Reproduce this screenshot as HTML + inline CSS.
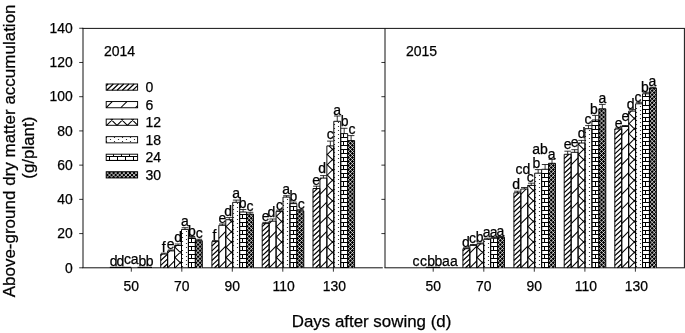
<!DOCTYPE html>
<html lang="en"><head><meta charset="utf-8"><title>Above-ground dry matter accumulation</title>
<style>html,body{margin:0;padding:0;background:#fff;}svg{display:block;font-family:"Liberation Sans",sans-serif;fill:#000;will-change:transform;}text{stroke:#000;stroke-width:0.25px;}</style>
</head><body>
<svg width="685" height="333" viewBox="0 0 685 333">
<rect width="685" height="333" fill="#fff"/>
<g stroke="#111" stroke-width="1" fill="none">
<path d="M83.0,27.9V267.8M82.5,28.4H684.9M684.4,28.4V267.8M385.0,28.4V267.8M82.5,267.8H382.8M384.5,267.8H684.9"/>
</g>
<g stroke="#000" stroke-width="0.8" fill="none">
<path d="M79.2,267.8H83M79.2,233.58H83M381.4,233.58H385M79.2,199.36H83M381.4,199.36H385M79.2,165.14H83M381.4,165.14H385M79.2,130.92H83M381.4,130.92H385M79.2,96.7H83M381.4,96.7H385M79.2,62.48H83M381.4,62.48H385M79.2,28.26H83M131.3,267.8V271.7M181.8,267.8V271.7M232.3,267.8V271.7M282.8,267.8V271.7M333.4,267.8V271.7M433.2,267.8V271.7M483.8,267.8V271.7M534.3,267.8V271.7M584.9,267.8V271.7M635.4,267.8V271.7"/>
</g>
<path d="M109.81,267.4H117.34" stroke="#000" stroke-width="1.2" fill="none"/>
<text x="113.58" y="265.8" font-size="14" text-anchor="middle">d</text>
<path d="M116.74,267.4H124.27" stroke="#000" stroke-width="1.2" fill="none"/>
<text x="120.51" y="265.8" font-size="14" text-anchor="middle">d</text>
<path d="M123.67,267.4H131.2" stroke="#000" stroke-width="1.2" fill="none"/>
<text x="127.44" y="263.5" font-size="14" text-anchor="middle">c</text>
<text x="134.56" y="263.5" font-size="14" text-anchor="middle">a</text>
<path d="M137.53,267.4H145.06" stroke="#000" stroke-width="1.2" fill="none"/>
<text x="142.3" y="265.8" font-size="14" text-anchor="middle">b</text>
<path d="M144.46,267.4H151.99" stroke="#000" stroke-width="1.2" fill="none"/>
<text x="149.53" y="265.8" font-size="14" text-anchor="middle">b</text>
<path d="M163.31,267.8L167.64,263.76M160.71,265.38L167.64,258.91M160.71,260.52L167.6,254.1M160.71,255.68L162.4,254.1" stroke="#000" stroke-width="1.2" fill="none"/><path d="M160.71,267.8V254.1H167.64V267.8" fill="none" stroke="#000" stroke-width="0.95"/>
<path d="M164.18,254.1V253.2M160.88,253.2H167.48" stroke="#000" stroke-width="0.8" fill="none"/>
<text x="163.68" y="251.8" font-size="14" text-anchor="middle">f</text>
<path d="M167.64,267.8L174.57,260.87M167.64,253.1L169.84,250.9" stroke="#000" stroke-width="1.05" fill="none"/><path d="M167.64,267.8V250.9H174.57V267.8" fill="none" stroke="#000" stroke-width="0.95"/>
<path d="M171.11,250.9V250M167.81,250H174.41" stroke="#000" stroke-width="0.8" fill="none"/>
<text x="170.61" y="249.3" font-size="14" text-anchor="middle">e</text>
<path d="M174.97,267.8L181.5,261.33M174.57,257.9L181.5,251.03M174.57,247.6L176.69,245.5M174.57,267.4L174.97,267.8M174.57,257.1L181.5,263.97M174.57,246.8L181.5,253.67" stroke="#000" stroke-width="1.05" fill="none"/><path d="M174.57,267.8V245.5H181.5V267.8" fill="none" stroke="#000" stroke-width="0.95"/>
<path d="M178.03,245.5V244M174.73,244H181.34" stroke="#000" stroke-width="0.8" fill="none"/>
<text x="178.03" y="242.1" font-size="14" text-anchor="middle">d</text>
<path d="M181.95,265.95h1.1v1.1h-1.1zM181.95,261.95h1.1v1.1h-1.1zM181.95,257.95h1.1v1.1h-1.1zM181.95,253.95h1.1v1.1h-1.1zM181.95,249.95h1.1v1.1h-1.1zM181.95,244.95h1.1v1.1h-1.1zM181.95,240.95h1.1v1.1h-1.1zM181.95,236.95h1.1v1.1h-1.1zM181.95,232.95h1.1v1.1h-1.1zM185.95,263.95h1.1v1.1h-1.1zM185.95,259.95h1.1v1.1h-1.1zM185.95,255.95h1.1v1.1h-1.1zM185.95,251.95h1.1v1.1h-1.1zM185.95,246.95h1.1v1.1h-1.1zM185.95,242.95h1.1v1.1h-1.1zM185.95,238.95h1.1v1.1h-1.1zM185.95,234.95h1.1v1.1h-1.1zM185.95,230.95h1.1v1.1h-1.1z" fill="#333"/><path d="M181.5,267.8V229.4H188.43V267.8" fill="none" stroke="#000" stroke-width="0.95"/>
<path d="M184.97,229.4V227.7M181.66,227.7H188.27" stroke="#000" stroke-width="0.8" fill="none"/>
<text x="184.97" y="225.8" font-size="14" text-anchor="middle">a</text>
<path d="M188.43,267.5H195.36M188.43,262.5H195.36M188.43,258.5H195.36M188.43,254.5H195.36M188.43,250.5H195.36M188.43,246.5H195.36M188.43,242.5H195.36M188.43,238.5H195.36M191.5,267.5V262.5M191.5,258.5V254.5M191.5,250.5V246.5M191.5,242.5V238.5" stroke="#000" stroke-width="1.0" fill="none"/><path d="M188.43,267.8V237.9H195.36V267.8" fill="none" stroke="#000" stroke-width="0.95"/>
<path d="M191.9,237.9V236.5M188.59,236.5H195.2" stroke="#000" stroke-width="0.8" fill="none"/>
<text x="191.9" y="235.5" font-size="14" text-anchor="middle">b</text>
<rect x="195.36" y="240.7" width="6.93" height="27.1" fill="#000"/><path d="M201.17,267.8L202.29,266.7M197.07,267.8L202.29,262.65M195.36,265.44L202.29,258.6M195.36,261.39L202.29,254.55M195.36,257.34L202.29,250.5M195.36,253.29L202.29,246.45M195.36,249.24L202.29,242.4M195.36,245.19L199.91,240.7M195.36,241.14L195.81,240.7M195.36,264.16L199.05,267.8M195.36,260.11L202.29,266.95M195.36,256.06L202.29,262.9M195.36,252.01L202.29,258.85M195.36,247.96L202.29,254.8M195.36,243.91L202.29,250.75M196.21,240.7L202.29,246.7M200.31,240.7L202.29,242.65" stroke="#fff" stroke-width="0.72" fill="none"/><path d="M195.36,267.8V240.7H202.29V267.8" fill="none" stroke="#000" stroke-width="0.95"/>
<path d="M198.83,240.7V239.3M195.53,239.3H202.13" stroke="#000" stroke-width="0.8" fill="none"/>
<text x="199.33" y="238" font-size="14" text-anchor="middle">c</text>
<path d="M214.51,267.8L218.84,263.76M211.91,265.38L218.84,258.91M211.91,260.52L218.84,254.06M211.91,255.68L218.84,249.21M211.91,250.82L218.84,244.36M211.91,245.97L216.6,241.6" stroke="#000" stroke-width="1.2" fill="none"/><path d="M211.91,267.8V241.6H218.84V267.8" fill="none" stroke="#000" stroke-width="0.95"/>
<path d="M215.38,241.6V240.6M212.07,240.6H218.68" stroke="#000" stroke-width="0.8" fill="none"/>
<text x="214.38" y="239.7" font-size="14" text-anchor="middle">f</text>
<path d="M218.84,267.8L225.77,260.87M218.84,253.1L225.77,246.17M218.84,238.4L225.77,231.47" stroke="#000" stroke-width="1.05" fill="none"/><path d="M218.84,267.8V225.3H225.77V267.8" fill="none" stroke="#000" stroke-width="0.95"/>
<path d="M222.31,225.3V224M219,224H225.61" stroke="#000" stroke-width="0.8" fill="none"/>
<text x="222.31" y="222.6" font-size="14" text-anchor="middle">e</text>
<path d="M226.17,267.8L232.7,261.33M225.77,257.9L232.7,251.03M225.77,247.6L232.7,240.73M225.77,237.3L232.7,230.43M225.77,227L232.7,220.13M225.77,267.4L226.17,267.8M225.77,257.1L232.7,263.97M225.77,246.8L232.7,253.67M225.77,236.5L232.7,243.37M225.77,226.2L232.7,233.07M229.6,219.7L232.7,222.77" stroke="#000" stroke-width="1.05" fill="none"/><path d="M225.77,267.8V219.7H232.7V267.8" fill="none" stroke="#000" stroke-width="0.95"/>
<path d="M229.23,219.7V217.6M225.93,217.6H232.53" stroke="#000" stroke-width="0.8" fill="none"/>
<text x="228.23" y="215.7" font-size="14" text-anchor="middle">d</text>
<path d="M232.95,265.95h1.1v1.1h-1.1zM232.95,261.95h1.1v1.1h-1.1zM232.95,257.95h1.1v1.1h-1.1zM232.95,253.95h1.1v1.1h-1.1zM232.95,249.95h1.1v1.1h-1.1zM232.95,244.95h1.1v1.1h-1.1zM232.95,240.95h1.1v1.1h-1.1zM232.95,236.95h1.1v1.1h-1.1zM232.95,232.95h1.1v1.1h-1.1zM232.95,228.95h1.1v1.1h-1.1zM232.95,224.95h1.1v1.1h-1.1zM232.95,220.95h1.1v1.1h-1.1zM232.95,216.95h1.1v1.1h-1.1zM232.95,212.95h1.1v1.1h-1.1zM232.95,208.95h1.1v1.1h-1.1zM232.95,204.95h1.1v1.1h-1.1zM236.95,263.95h1.1v1.1h-1.1zM236.95,259.95h1.1v1.1h-1.1zM236.95,255.95h1.1v1.1h-1.1zM236.95,251.95h1.1v1.1h-1.1zM236.95,246.95h1.1v1.1h-1.1zM236.95,242.95h1.1v1.1h-1.1zM236.95,238.95h1.1v1.1h-1.1zM236.95,234.95h1.1v1.1h-1.1zM236.95,230.95h1.1v1.1h-1.1zM236.95,226.95h1.1v1.1h-1.1zM236.95,222.95h1.1v1.1h-1.1zM236.95,218.95h1.1v1.1h-1.1zM236.95,214.95h1.1v1.1h-1.1zM236.95,210.95h1.1v1.1h-1.1zM236.95,206.95h1.1v1.1h-1.1zM236.95,202.95h1.1v1.1h-1.1z" fill="#333"/><path d="M232.7,267.8V202.3H239.63V267.8" fill="none" stroke="#000" stroke-width="0.95"/>
<path d="M236.16,202.3V200.1M232.86,200.1H239.47" stroke="#000" stroke-width="0.8" fill="none"/>
<text x="236.16" y="198.3" font-size="14" text-anchor="middle">a</text>
<path d="M239.63,267.5H246.56M239.63,262.5H246.56M239.63,258.5H246.56M239.63,254.5H246.56M239.63,250.5H246.56M239.63,246.5H246.56M239.63,242.5H246.56M239.63,238.5H246.56M239.63,234.5H246.56M239.63,230.5H246.56M239.63,226.5H246.56M239.63,222.5H246.56M239.63,218.5H246.56M239.63,214.5H246.56M242.5,267.5V262.5M242.5,258.5V254.5M242.5,250.5V246.5M242.5,242.5V238.5M242.5,234.5V230.5M242.5,226.5V222.5M242.5,218.5V214.5" stroke="#000" stroke-width="1.0" fill="none"/><path d="M239.63,267.8V212H246.56V267.8" fill="none" stroke="#000" stroke-width="0.95"/>
<path d="M243.09,212V209.5M239.79,209.5H246.4" stroke="#000" stroke-width="0.8" fill="none"/>
<text x="242.69" y="208" font-size="14" text-anchor="middle">b</text>
<rect x="246.56" y="214.1" width="6.93" height="53.7" fill="#000"/><path d="M252.37,267.8L253.49,266.7M248.27,267.8L253.49,262.65M246.56,265.44L253.49,258.6M246.56,261.39L253.49,254.55M246.56,257.34L253.49,250.5M246.56,253.29L253.49,246.45M246.56,249.24L253.49,242.4M246.56,245.19L253.49,238.35M246.56,241.14L253.49,234.3M246.56,237.09L253.49,230.25M246.56,233.04L253.49,226.2M246.56,228.99L253.49,222.15M246.56,224.94L253.49,218.1M246.56,220.89L253.44,214.1M246.56,216.84L249.34,214.1M246.56,264.16L250.25,267.8M246.56,260.11L253.49,266.95M246.56,256.06L253.49,262.9M246.56,252.01L253.49,258.85M246.56,247.96L253.49,254.8M246.56,243.91L253.49,250.75M246.56,239.86L253.49,246.7M246.56,235.81L253.49,242.65M246.56,231.76L253.49,238.6M246.56,227.71L253.49,234.55M246.56,223.66L253.49,230.5M246.56,219.61L253.49,226.45M246.56,215.56L253.49,222.4M249.18,214.1L253.49,218.35M253.28,214.1L253.49,214.3" stroke="#fff" stroke-width="0.72" fill="none"/><path d="M246.56,267.8V214.1H253.49V267.8" fill="none" stroke="#000" stroke-width="0.95"/>
<path d="M250.03,214.1V212.3M246.72,212.3H253.33" stroke="#000" stroke-width="0.8" fill="none"/>
<text x="250.03" y="211.1" font-size="14" text-anchor="middle">c</text>
<path d="M264.81,267.8L269.14,263.76M262.21,265.38L269.14,258.91M262.21,260.52L269.14,254.06M262.21,255.68L269.14,249.21M262.21,250.82L269.14,244.36M262.21,245.97L269.14,239.51M262.21,241.12L269.14,234.66M262.21,236.28L269.14,229.81M262.21,231.43L269.14,224.96M262.21,226.57L265.4,223.6" stroke="#000" stroke-width="1.2" fill="none"/><path d="M262.21,267.8V223.6H269.14V267.8" fill="none" stroke="#000" stroke-width="0.95"/>
<path d="M265.67,223.6V222.4M262.37,222.4H268.97" stroke="#000" stroke-width="0.8" fill="none"/>
<text x="265.67" y="220.6" font-size="14" text-anchor="middle">e</text>
<path d="M269.14,267.8L276.07,260.87M269.14,253.1L276.07,246.17M269.14,238.4L276.07,231.47M269.14,223.7L271.64,221.2" stroke="#000" stroke-width="1.05" fill="none"/><path d="M269.14,267.8V221.2H276.07V267.8" fill="none" stroke="#000" stroke-width="0.95"/>
<path d="M272.6,221.2V219M269.3,219H275.9" stroke="#000" stroke-width="0.8" fill="none"/>
<text x="271.4" y="217.4" font-size="14" text-anchor="middle">d</text>
<path d="M276.47,267.8L283,261.33M276.07,257.9L283,251.03M276.07,247.6L283,240.73M276.07,237.3L283,230.43M276.07,227L283,220.13M276.07,216.7L281.42,211.4M276.07,267.4L276.47,267.8M276.07,257.1L283,263.97M276.07,246.8L283,253.67M276.07,236.5L283,243.37M276.07,226.2L283,233.07M276.07,215.9L283,222.77M281.92,211.4L283,212.47" stroke="#000" stroke-width="1.05" fill="none"/><path d="M276.07,267.8V211.4H283V267.8" fill="none" stroke="#000" stroke-width="0.95"/>
<path d="M279.53,211.4V210.2M276.23,210.2H282.83" stroke="#000" stroke-width="0.8" fill="none"/>
<text x="279.53" y="209.5" font-size="14" text-anchor="middle">c</text>
<path d="M282.95,265.95h1.1v1.1h-1.1zM282.95,261.95h1.1v1.1h-1.1zM282.95,257.95h1.1v1.1h-1.1zM282.95,253.95h1.1v1.1h-1.1zM282.95,249.95h1.1v1.1h-1.1zM282.95,244.95h1.1v1.1h-1.1zM282.95,240.95h1.1v1.1h-1.1zM282.95,236.95h1.1v1.1h-1.1zM282.95,232.95h1.1v1.1h-1.1zM282.95,228.95h1.1v1.1h-1.1zM282.95,224.95h1.1v1.1h-1.1zM282.95,220.95h1.1v1.1h-1.1zM282.95,216.95h1.1v1.1h-1.1zM282.95,212.95h1.1v1.1h-1.1zM282.95,208.95h1.1v1.1h-1.1zM282.95,204.95h1.1v1.1h-1.1zM282.95,200.95h1.1v1.1h-1.1zM286.95,263.95h1.1v1.1h-1.1zM286.95,259.95h1.1v1.1h-1.1zM286.95,255.95h1.1v1.1h-1.1zM286.95,251.95h1.1v1.1h-1.1zM286.95,246.95h1.1v1.1h-1.1zM286.95,242.95h1.1v1.1h-1.1zM286.95,238.95h1.1v1.1h-1.1zM286.95,234.95h1.1v1.1h-1.1zM286.95,230.95h1.1v1.1h-1.1zM286.95,226.95h1.1v1.1h-1.1zM286.95,222.95h1.1v1.1h-1.1zM286.95,218.95h1.1v1.1h-1.1zM286.95,214.95h1.1v1.1h-1.1zM286.95,210.95h1.1v1.1h-1.1zM286.95,206.95h1.1v1.1h-1.1zM286.95,202.95h1.1v1.1h-1.1zM286.95,198.95h1.1v1.1h-1.1z" fill="#333"/><path d="M283,267.8V197.1H289.93V267.8" fill="none" stroke="#000" stroke-width="0.95"/>
<path d="M286.46,197.1V195.7M283.16,195.7H289.76" stroke="#000" stroke-width="0.8" fill="none"/>
<text x="286.16" y="194.2" font-size="14" text-anchor="middle">a</text>
<path d="M289.93,267.5H296.86M289.93,262.5H296.86M289.93,258.5H296.86M289.93,254.5H296.86M289.93,250.5H296.86M289.93,246.5H296.86M289.93,242.5H296.86M289.93,238.5H296.86M289.93,234.5H296.86M289.93,230.5H296.86M289.93,226.5H296.86M289.93,222.5H296.86M289.93,218.5H296.86M289.93,214.5H296.86M289.93,210.5H296.86M289.93,206.5H296.86M293.5,267.5V262.5M293.5,258.5V254.5M293.5,250.5V246.5M293.5,242.5V238.5M293.5,234.5V230.5M293.5,226.5V222.5M293.5,218.5V214.5M293.5,210.5V206.5" stroke="#000" stroke-width="1.0" fill="none"/><path d="M289.93,267.8V203.6H296.86V267.8" fill="none" stroke="#000" stroke-width="0.95"/>
<path d="M293.39,203.6V202.1M290.09,202.1H296.69" stroke="#000" stroke-width="0.8" fill="none"/>
<text x="293.39" y="201.4" font-size="14" text-anchor="middle">b</text>
<rect x="296.86" y="210.8" width="6.93" height="57" fill="#000"/><path d="M302.67,267.8L303.79,266.7M298.57,267.8L303.79,262.65M296.86,265.44L303.79,258.6M296.86,261.39L303.79,254.55M296.86,257.34L303.79,250.5M296.86,253.29L303.79,246.45M296.86,249.24L303.79,242.4M296.86,245.19L303.79,238.35M296.86,241.14L303.79,234.3M296.86,237.09L303.79,230.25M296.86,233.04L303.79,226.2M296.86,228.99L303.79,222.15M296.86,224.94L303.79,218.1M296.86,220.89L303.79,214.05M296.86,216.84L302.98,210.8M296.86,212.79L298.88,210.8M296.86,264.16L300.55,267.8M296.86,260.11L303.79,266.95M296.86,256.06L303.79,262.9M296.86,252.01L303.79,258.85M296.86,247.96L303.79,254.8M296.86,243.91L303.79,250.75M296.86,239.86L303.79,246.7M296.86,235.81L303.79,242.65M296.86,231.76L303.79,238.6M296.86,227.71L303.79,234.55M296.86,223.66L303.79,230.5M296.86,219.61L303.79,226.45M296.86,215.56L303.79,222.4M296.86,211.51L303.79,218.35M300.24,210.8L303.79,214.3" stroke="#fff" stroke-width="0.72" fill="none"/><path d="M296.86,267.8V210.8H303.79V267.8" fill="none" stroke="#000" stroke-width="0.95"/>
<path d="M300.32,210.8V209.6M297.02,209.6H303.62" stroke="#000" stroke-width="0.8" fill="none"/>
<text x="301.32" y="208.8" font-size="14" text-anchor="middle">c</text>
<path d="M315.61,267.8L319.94,263.76M313.01,265.38L319.94,258.91M313.01,260.52L319.94,254.06M313.01,255.68L319.94,249.21M313.01,250.82L319.94,244.36M313.01,245.97L319.94,239.51M313.01,241.12L319.94,234.66M313.01,236.28L319.94,229.81M313.01,231.43L319.94,224.96M313.01,226.57L319.94,220.11M313.01,221.72L319.94,215.26M313.01,216.88L319.94,210.41M313.01,212.03L319.94,205.56M313.01,207.18L319.94,200.71M313.01,202.32L319.94,195.86M313.01,197.48L319.94,191.01M313.01,192.62L317.43,188.5" stroke="#000" stroke-width="1.2" fill="none"/><path d="M313.01,267.8V188.5H319.94V267.8" fill="none" stroke="#000" stroke-width="0.95"/>
<path d="M316.47,188.5V186.2M313.17,186.2H319.77" stroke="#000" stroke-width="0.8" fill="none"/>
<text x="316.07" y="184.7" font-size="14" text-anchor="middle">e</text>
<path d="M319.94,267.8L326.87,260.87M319.94,253.1L326.87,246.17M319.94,238.4L326.87,231.47M319.94,223.7L326.87,216.77M319.94,209L326.87,202.07M319.94,194.3L326.87,187.37M319.94,179.6L321.44,178.1" stroke="#000" stroke-width="1.05" fill="none"/><path d="M319.94,267.8V178.1H326.87V267.8" fill="none" stroke="#000" stroke-width="0.95"/>
<path d="M323.4,178.1V175.6M320.1,175.6H326.7" stroke="#000" stroke-width="0.8" fill="none"/>
<text x="322.1" y="173.3" font-size="14" text-anchor="middle">d</text>
<path d="M327.27,267.8L333.8,261.33M326.87,257.9L333.8,251.03M326.87,247.6L333.8,240.73M326.87,237.3L333.8,230.43M326.87,227L333.8,220.13M326.87,216.7L333.8,209.83M326.87,206.4L333.8,199.53M326.87,196.1L333.8,189.23M326.87,185.8L333.8,178.93M326.87,175.5L333.8,168.63M326.87,165.2L333.8,158.33M326.87,154.9L333.8,148.03M326.87,267.4L327.27,267.8M326.87,257.1L333.8,263.97M326.87,246.8L333.8,253.67M326.87,236.5L333.8,243.37M326.87,226.2L333.8,233.07M326.87,215.9L333.8,222.77M326.87,205.6L333.8,212.47M326.87,195.3L333.8,202.17M326.87,185L333.8,191.87M326.87,174.7L333.8,181.57M326.87,164.4L333.8,171.27M326.87,154.1L333.8,160.97M328.99,145.9L333.8,150.67" stroke="#000" stroke-width="1.05" fill="none"/><path d="M326.87,267.8V145.9H333.8V267.8" fill="none" stroke="#000" stroke-width="0.95"/>
<path d="M330.33,145.9V141.1M327.03,141.1H333.63" stroke="#000" stroke-width="0.8" fill="none"/>
<text x="330.33" y="139.2" font-size="14" text-anchor="middle">c</text>
<path d="M333.95,265.95h1.1v1.1h-1.1zM333.95,261.95h1.1v1.1h-1.1zM333.95,257.95h1.1v1.1h-1.1zM333.95,253.95h1.1v1.1h-1.1zM333.95,249.95h1.1v1.1h-1.1zM333.95,244.95h1.1v1.1h-1.1zM333.95,240.95h1.1v1.1h-1.1zM333.95,236.95h1.1v1.1h-1.1zM333.95,232.95h1.1v1.1h-1.1zM333.95,228.95h1.1v1.1h-1.1zM333.95,224.95h1.1v1.1h-1.1zM333.95,220.95h1.1v1.1h-1.1zM333.95,216.95h1.1v1.1h-1.1zM333.95,212.95h1.1v1.1h-1.1zM333.95,208.95h1.1v1.1h-1.1zM333.95,204.95h1.1v1.1h-1.1zM333.95,200.95h1.1v1.1h-1.1zM333.95,196.95h1.1v1.1h-1.1zM333.95,192.95h1.1v1.1h-1.1zM333.95,188.95h1.1v1.1h-1.1zM333.95,184.95h1.1v1.1h-1.1zM333.95,180.95h1.1v1.1h-1.1zM333.95,176.95h1.1v1.1h-1.1zM333.95,172.95h1.1v1.1h-1.1zM333.95,168.95h1.1v1.1h-1.1zM333.95,163.95h1.1v1.1h-1.1zM333.95,159.95h1.1v1.1h-1.1zM333.95,155.95h1.1v1.1h-1.1zM333.95,151.95h1.1v1.1h-1.1zM333.95,147.95h1.1v1.1h-1.1zM333.95,143.95h1.1v1.1h-1.1zM333.95,139.95h1.1v1.1h-1.1zM333.95,135.95h1.1v1.1h-1.1zM333.95,131.95h1.1v1.1h-1.1zM333.95,127.95h1.1v1.1h-1.1zM333.95,123.95h1.1v1.1h-1.1zM337.95,263.95h1.1v1.1h-1.1zM337.95,259.95h1.1v1.1h-1.1zM337.95,255.95h1.1v1.1h-1.1zM337.95,251.95h1.1v1.1h-1.1zM337.95,246.95h1.1v1.1h-1.1zM337.95,242.95h1.1v1.1h-1.1zM337.95,238.95h1.1v1.1h-1.1zM337.95,234.95h1.1v1.1h-1.1zM337.95,230.95h1.1v1.1h-1.1zM337.95,226.95h1.1v1.1h-1.1zM337.95,222.95h1.1v1.1h-1.1zM337.95,218.95h1.1v1.1h-1.1zM337.95,214.95h1.1v1.1h-1.1zM337.95,210.95h1.1v1.1h-1.1zM337.95,206.95h1.1v1.1h-1.1zM337.95,202.95h1.1v1.1h-1.1zM337.95,198.95h1.1v1.1h-1.1zM337.95,194.95h1.1v1.1h-1.1zM337.95,190.95h1.1v1.1h-1.1zM337.95,186.95h1.1v1.1h-1.1zM337.95,182.95h1.1v1.1h-1.1zM337.95,178.95h1.1v1.1h-1.1zM337.95,174.95h1.1v1.1h-1.1zM337.95,170.95h1.1v1.1h-1.1zM337.95,165.95h1.1v1.1h-1.1zM337.95,161.95h1.1v1.1h-1.1zM337.95,157.95h1.1v1.1h-1.1zM337.95,153.95h1.1v1.1h-1.1zM337.95,149.95h1.1v1.1h-1.1zM337.95,145.95h1.1v1.1h-1.1zM337.95,141.95h1.1v1.1h-1.1zM337.95,137.95h1.1v1.1h-1.1zM337.95,133.95h1.1v1.1h-1.1zM337.95,129.95h1.1v1.1h-1.1zM337.95,125.95h1.1v1.1h-1.1zM337.95,121.95h1.1v1.1h-1.1z" fill="#333"/><path d="M333.8,267.8V121.3H340.73V267.8" fill="none" stroke="#000" stroke-width="0.95"/>
<path d="M337.26,121.3V116M333.96,116H340.56" stroke="#000" stroke-width="0.8" fill="none"/>
<text x="337.26" y="114.6" font-size="14" text-anchor="middle">a</text>
<path d="M340.73,267.5H347.66M340.73,262.5H347.66M340.73,258.5H347.66M340.73,254.5H347.66M340.73,250.5H347.66M340.73,246.5H347.66M340.73,242.5H347.66M340.73,238.5H347.66M340.73,234.5H347.66M340.73,230.5H347.66M340.73,226.5H347.66M340.73,222.5H347.66M340.73,218.5H347.66M340.73,214.5H347.66M340.73,210.5H347.66M340.73,206.5H347.66M340.73,202.5H347.66M340.73,198.5H347.66M340.73,194.5H347.66M340.73,190.5H347.66M340.73,186.5H347.66M340.73,181.5H347.66M340.73,177.5H347.66M340.73,173.5H347.66M340.73,169.5H347.66M340.73,165.5H347.66M340.73,161.5H347.66M340.73,157.5H347.66M340.73,153.5H347.66M340.73,149.5H347.66M340.73,145.5H347.66M340.73,141.5H347.66M340.73,137.5H347.66M343.5,267.5V262.5M343.5,258.5V254.5M343.5,250.5V246.5M343.5,242.5V238.5M343.5,234.5V230.5M343.5,226.5V222.5M343.5,218.5V214.5M343.5,210.5V206.5M343.5,202.5V198.5M343.5,194.5V190.5M343.5,186.5V181.5M343.5,177.5V173.5M343.5,169.5V165.5M343.5,161.5V157.5M343.5,153.5V149.5M343.5,145.5V141.5M343.5,137.5V133.6" stroke="#000" stroke-width="1.0" fill="none"/><path d="M340.73,267.8V133.6H347.66V267.8" fill="none" stroke="#000" stroke-width="0.95"/>
<path d="M344.19,133.6V128.3M340.89,128.3H347.5" stroke="#000" stroke-width="0.8" fill="none"/>
<text x="344.69" y="126.3" font-size="14" text-anchor="middle">b</text>
<rect x="347.66" y="140.6" width="6.93" height="127.2" fill="#000"/><path d="M353.47,267.8L354.59,266.7M349.37,267.8L354.59,262.65M347.66,265.44L354.59,258.6M347.66,261.39L354.59,254.55M347.66,257.34L354.59,250.5M347.66,253.29L354.59,246.45M347.66,249.24L354.59,242.4M347.66,245.19L354.59,238.35M347.66,241.14L354.59,234.3M347.66,237.09L354.59,230.25M347.66,233.04L354.59,226.2M347.66,228.99L354.59,222.15M347.66,224.94L354.59,218.1M347.66,220.89L354.59,214.05M347.66,216.84L354.59,210M347.66,212.79L354.59,205.95M347.66,208.74L354.59,201.9M347.66,204.69L354.59,197.85M347.66,200.64L354.59,193.8M347.66,196.59L354.59,189.75M347.66,192.54L354.59,185.7M347.66,188.49L354.59,181.65M347.66,184.44L354.59,177.6M347.66,180.39L354.59,173.55M347.66,176.34L354.59,169.5M347.66,172.29L354.59,165.45M347.66,168.24L354.59,161.4M347.66,164.19L354.59,157.35M347.66,160.14L354.59,153.3M347.66,156.09L354.59,149.25M347.66,152.04L354.59,145.2M347.66,147.99L354.59,141.15M347.66,143.94L351.04,140.6M347.66,264.16L351.35,267.8M347.66,260.11L354.59,266.95M347.66,256.06L354.59,262.9M347.66,252.01L354.59,258.85M347.66,247.96L354.59,254.8M347.66,243.91L354.59,250.75M347.66,239.86L354.59,246.7M347.66,235.81L354.59,242.65M347.66,231.76L354.59,238.6M347.66,227.71L354.59,234.55M347.66,223.66L354.59,230.5M347.66,219.61L354.59,226.45M347.66,215.56L354.59,222.4M347.66,211.51L354.59,218.35M347.66,207.46L354.59,214.3M347.66,203.41L354.59,210.25M347.66,199.36L354.59,206.2M347.66,195.31L354.59,202.15M347.66,191.26L354.59,198.1M347.66,187.21L354.59,194.05M347.66,183.16L354.59,190M347.66,179.11L354.59,185.95M347.66,175.06L354.59,181.9M347.66,171.01L354.59,177.85M347.66,166.96L354.59,173.8M347.66,162.91L354.59,169.75M347.66,158.86L354.59,165.7M347.66,154.81L354.59,161.65M347.66,150.76L354.59,157.6M347.66,146.71L354.59,153.55M347.66,142.66L354.59,149.5M349.68,140.6L354.59,145.45M353.78,140.6L354.59,141.4" stroke="#fff" stroke-width="0.72" fill="none"/><path d="M347.66,267.8V140.6H354.59V267.8" fill="none" stroke="#000" stroke-width="0.95"/>
<path d="M351.12,140.6V135.6M347.82,135.6H354.42" stroke="#000" stroke-width="0.8" fill="none"/>
<text x="352.02" y="134.2" font-size="14" text-anchor="middle">c</text>
<text x="416" y="265.6" font-size="14" text-anchor="middle">c</text>
<text x="423.6" y="265.6" font-size="14" text-anchor="middle">c</text>
<path d="M425.77,267.4H433.3" stroke="#000" stroke-width="1.2" fill="none"/>
<text x="431.1" y="265.6" font-size="14" text-anchor="middle">b</text>
<path d="M432.7,267.4H440.23" stroke="#000" stroke-width="1.2" fill="none"/>
<text x="438.4" y="265.6" font-size="14" text-anchor="middle">b</text>
<text x="445.8" y="265.6" font-size="14" text-anchor="middle">a</text>
<text x="454" y="265.6" font-size="14" text-anchor="middle">a</text>
<path d="M465.51,267.8L469.84,263.76M462.91,265.38L469.84,258.91M462.91,260.52L469.84,254.06M462.91,255.68L469.84,249.21M462.91,250.82L465.19,248.7" stroke="#000" stroke-width="1.2" fill="none"/><path d="M462.91,267.8V248.7H469.84V267.8" fill="none" stroke="#000" stroke-width="0.95"/>
<path d="M466.37,248.7V247.8M463.07,247.8H469.67" stroke="#000" stroke-width="0.8" fill="none"/>
<text x="465.97" y="246.6" font-size="14" text-anchor="middle">d</text>
<path d="M469.84,267.8L476.77,260.87M469.84,253.1L476.77,246.17" stroke="#000" stroke-width="1.05" fill="none"/><path d="M469.84,267.8V245.4H476.77V267.8" fill="none" stroke="#000" stroke-width="0.95"/>
<path d="M473.3,245.4V244.5M470,244.5H476.6" stroke="#000" stroke-width="0.8" fill="none"/>
<text x="472.6" y="243.4" font-size="14" text-anchor="middle">c</text>
<path d="M477.17,267.8L483.7,261.33M476.77,257.9L483.7,251.03M476.77,247.6L480.5,243.9M476.77,267.4L477.17,267.8M476.77,257.1L483.7,263.97M476.77,246.8L483.7,253.67" stroke="#000" stroke-width="1.05" fill="none"/><path d="M476.77,267.8V243.9H483.7V267.8" fill="none" stroke="#000" stroke-width="0.95"/>
<path d="M480.23,243.9V243M476.93,243H483.53" stroke="#000" stroke-width="0.8" fill="none"/>
<text x="479.53" y="242.2" font-size="14" text-anchor="middle">b</text>
<path d="M483.95,265.95h1.1v1.1h-1.1zM483.95,261.95h1.1v1.1h-1.1zM483.95,257.95h1.1v1.1h-1.1zM483.95,253.95h1.1v1.1h-1.1zM483.95,249.95h1.1v1.1h-1.1zM483.95,244.95h1.1v1.1h-1.1zM483.95,240.95h1.1v1.1h-1.1zM487.95,263.95h1.1v1.1h-1.1zM487.95,259.95h1.1v1.1h-1.1zM487.95,255.95h1.1v1.1h-1.1zM487.95,251.95h1.1v1.1h-1.1zM487.95,246.95h1.1v1.1h-1.1zM487.95,242.95h1.1v1.1h-1.1zM487.95,238.95h1.1v1.1h-1.1z" fill="#333"/><path d="M483.7,267.8V239.3H490.63V267.8" fill="none" stroke="#000" stroke-width="0.95"/>
<path d="M487.16,239.3V238.2M483.86,238.2H490.46" stroke="#000" stroke-width="0.8" fill="none"/>
<text x="486.66" y="236.8" font-size="14" text-anchor="middle">a</text>
<path d="M490.63,267.5H497.56M490.63,262.5H497.56M490.63,258.5H497.56M490.63,254.5H497.56M490.63,250.5H497.56M490.63,246.5H497.56M490.63,242.5H497.56M493.5,267.5V262.5M493.5,258.5V254.5M493.5,250.5V246.5M493.5,242.5V238.45" stroke="#000" stroke-width="1.0" fill="none"/><path d="M490.63,267.8V238.3H497.56V267.8" fill="none" stroke="#000" stroke-width="0.95"/>
<path d="M494.09,238.3V237.4M490.79,237.4H497.39" stroke="#000" stroke-width="0.8" fill="none"/>
<text x="493.59" y="236.8" font-size="14" text-anchor="middle">a</text>
<rect x="497.56" y="237.3" width="6.93" height="30.5" fill="#000"/><path d="M503.37,267.8L504.49,266.7M499.27,267.8L504.49,262.65M497.56,265.44L504.49,258.6M497.56,261.39L504.49,254.55M497.56,257.34L504.49,250.5M497.56,253.29L504.49,246.45M497.56,249.24L504.49,242.4M497.56,245.19L504.49,238.35M497.56,241.14L501.45,237.3M497.56,264.16L501.25,267.8M497.56,260.11L504.49,266.95M497.56,256.06L504.49,262.9M497.56,252.01L504.49,258.85M497.56,247.96L504.49,254.8M497.56,243.91L504.49,250.75M497.56,239.86L504.49,246.7M499.07,237.3L504.49,242.65M503.17,237.3L504.49,238.6" stroke="#fff" stroke-width="0.72" fill="none"/><path d="M497.56,267.8V237.3H504.49V267.8" fill="none" stroke="#000" stroke-width="0.95"/>
<path d="M501.02,237.3V236.5M497.72,236.5H504.32" stroke="#000" stroke-width="0.8" fill="none"/>
<text x="500.32" y="236.3" font-size="14" text-anchor="middle">a</text>
<path d="M516.51,267.8L520.84,263.76M513.91,265.38L520.84,258.91M513.91,260.52L520.84,254.06M513.91,255.68L520.84,249.21M513.91,250.83L520.84,244.36M513.91,245.97L520.84,239.51M513.91,241.13L520.84,234.66M513.91,236.28L520.84,229.81M513.91,231.43L520.84,224.96M513.91,226.58L520.84,220.11M513.91,221.73L520.84,215.26M513.91,216.88L520.84,210.41M513.91,212.03L520.84,205.56M513.91,207.18L520.84,200.71M513.91,202.33L520.84,195.86M513.91,197.48L518.92,192.8" stroke="#000" stroke-width="1.2" fill="none"/><path d="M513.91,267.8V192.8H520.84V267.8" fill="none" stroke="#000" stroke-width="0.95"/>
<path d="M517.38,192.8V191.2M514.08,191.2H520.68" stroke="#000" stroke-width="0.8" fill="none"/>
<text x="516.18" y="188.6" font-size="14" text-anchor="middle">d</text>
<path d="M520.84,267.8L527.77,260.87M520.84,253.1L527.77,246.17M520.84,238.4L527.77,231.47M520.84,223.7L527.77,216.77M520.84,209L527.77,202.07M520.84,194.3L526.14,189" stroke="#000" stroke-width="1.05" fill="none"/><path d="M520.84,267.8V189H527.77V267.8" fill="none" stroke="#000" stroke-width="0.95"/>
<path d="M524.31,189V187.5M521.01,187.5H527.61" stroke="#000" stroke-width="0.8" fill="none"/>
<text x="523" y="174.3" font-size="14" text-anchor="middle">cd</text>
<path d="M528.17,267.8L534.7,261.33M527.77,257.9L534.7,251.03M527.77,247.6L534.7,240.73M527.77,237.3L534.7,230.43M527.77,227L534.7,220.13M527.77,216.7L534.7,209.83M527.77,206.4L534.7,199.53M527.77,196.1L534.7,189.23M527.77,185.8L528.17,185.4M527.77,267.4L528.17,267.8M527.77,257.1L534.7,263.97M527.77,246.8L534.7,253.67M527.77,236.5L534.7,243.37M527.77,226.2L534.7,233.07M527.77,215.9L534.7,222.77M527.77,205.6L534.7,212.47M527.77,195.3L534.7,202.17M528.17,185.4L534.7,191.87" stroke="#000" stroke-width="1.05" fill="none"/><path d="M527.77,267.8V185.4H534.7V267.8" fill="none" stroke="#000" stroke-width="0.95"/>
<path d="M531.24,185.4V183.2M527.94,183.2H534.54" stroke="#000" stroke-width="0.8" fill="none"/>
<text x="530.24" y="181.9" font-size="14" text-anchor="middle">c</text>
<path d="M534.95,265.95h1.1v1.1h-1.1zM534.95,261.95h1.1v1.1h-1.1zM534.95,257.95h1.1v1.1h-1.1zM534.95,253.95h1.1v1.1h-1.1zM534.95,249.95h1.1v1.1h-1.1zM534.95,244.95h1.1v1.1h-1.1zM534.95,240.95h1.1v1.1h-1.1zM534.95,236.95h1.1v1.1h-1.1zM534.95,232.95h1.1v1.1h-1.1zM534.95,228.95h1.1v1.1h-1.1zM534.95,224.95h1.1v1.1h-1.1zM534.95,220.95h1.1v1.1h-1.1zM534.95,216.95h1.1v1.1h-1.1zM534.95,212.95h1.1v1.1h-1.1zM534.95,208.95h1.1v1.1h-1.1zM534.95,204.95h1.1v1.1h-1.1zM534.95,200.95h1.1v1.1h-1.1zM534.95,196.95h1.1v1.1h-1.1zM534.95,192.95h1.1v1.1h-1.1zM534.95,188.95h1.1v1.1h-1.1zM534.95,184.95h1.1v1.1h-1.1zM534.95,180.95h1.1v1.1h-1.1zM534.95,176.95h1.1v1.1h-1.1zM538.95,263.95h1.1v1.1h-1.1zM538.95,259.95h1.1v1.1h-1.1zM538.95,255.95h1.1v1.1h-1.1zM538.95,251.95h1.1v1.1h-1.1zM538.95,246.95h1.1v1.1h-1.1zM538.95,242.95h1.1v1.1h-1.1zM538.95,238.95h1.1v1.1h-1.1zM538.95,234.95h1.1v1.1h-1.1zM538.95,230.95h1.1v1.1h-1.1zM538.95,226.95h1.1v1.1h-1.1zM538.95,222.95h1.1v1.1h-1.1zM538.95,218.95h1.1v1.1h-1.1zM538.95,214.95h1.1v1.1h-1.1zM538.95,210.95h1.1v1.1h-1.1zM538.95,206.95h1.1v1.1h-1.1zM538.95,202.95h1.1v1.1h-1.1zM538.95,198.95h1.1v1.1h-1.1zM538.95,194.95h1.1v1.1h-1.1zM538.95,190.95h1.1v1.1h-1.1zM538.95,186.95h1.1v1.1h-1.1zM538.95,182.95h1.1v1.1h-1.1zM538.95,178.95h1.1v1.1h-1.1zM538.95,174.95h1.1v1.1h-1.1z" fill="#333"/><path d="M534.7,267.8V173.2H541.63V267.8" fill="none" stroke="#000" stroke-width="0.95"/>
<path d="M538.17,173.2V169.6M534.87,169.6H541.47" stroke="#000" stroke-width="0.8" fill="none"/>
<text x="536.3" y="167.7" font-size="14" text-anchor="middle">b</text>
<path d="M541.63,267.5H548.56M541.63,262.5H548.56M541.63,258.5H548.56M541.63,254.5H548.56M541.63,250.5H548.56M541.63,246.5H548.56M541.63,242.5H548.56M541.63,238.5H548.56M541.63,234.5H548.56M541.63,230.5H548.56M541.63,226.5H548.56M541.63,222.5H548.56M541.63,218.5H548.56M541.63,214.5H548.56M541.63,210.5H548.56M541.63,206.5H548.56M541.63,202.5H548.56M541.63,198.5H548.56M541.63,194.5H548.56M541.63,190.5H548.56M541.63,186.5H548.56M541.63,181.5H548.56M541.63,177.5H548.56M541.63,173.5H548.56M544.5,267.5V262.5M544.5,258.5V254.5M544.5,250.5V246.5M544.5,242.5V238.5M544.5,234.5V230.5M544.5,226.5V222.5M544.5,218.5V214.5M544.5,210.5V206.5M544.5,202.5V198.5M544.5,194.5V190.5M544.5,186.5V181.5M544.5,177.5V173.5" stroke="#000" stroke-width="1.0" fill="none"/><path d="M541.63,267.8V169.3H548.56V267.8" fill="none" stroke="#000" stroke-width="0.95"/>
<path d="M545.1,169.3V164.5M541.8,164.5H548.4" stroke="#000" stroke-width="0.8" fill="none"/>
<text x="540.1" y="153.9" font-size="14" text-anchor="middle">ab</text>
<rect x="548.56" y="163.3" width="6.93" height="104.5" fill="#000"/><path d="M554.37,267.8L555.49,266.7M550.27,267.8L555.49,262.65M548.56,265.44L555.49,258.6M548.56,261.39L555.49,254.55M548.56,257.34L555.49,250.5M548.56,253.29L555.49,246.45M548.56,249.24L555.49,242.4M548.56,245.19L555.49,238.35M548.56,241.14L555.49,234.3M548.56,237.09L555.49,230.25M548.56,233.04L555.49,226.2M548.56,228.99L555.49,222.15M548.56,224.94L555.49,218.1M548.56,220.89L555.49,214.05M548.56,216.84L555.49,210M548.56,212.79L555.49,205.95M548.56,208.74L555.49,201.9M548.56,204.69L555.49,197.85M548.56,200.64L555.49,193.8M548.56,196.59L555.49,189.75M548.56,192.54L555.49,185.7M548.56,188.49L555.49,181.65M548.56,184.44L555.49,177.6M548.56,180.39L555.49,173.55M548.56,176.34L555.49,169.5M548.56,172.29L555.49,165.45M548.56,168.24L553.56,163.3M548.56,164.19L549.46,163.3M548.56,264.16L552.25,267.8M548.56,260.11L555.49,266.95M548.56,256.06L555.49,262.9M548.56,252.01L555.49,258.85M548.56,247.96L555.49,254.8M548.56,243.91L555.49,250.75M548.56,239.86L555.49,246.7M548.56,235.81L555.49,242.65M548.56,231.76L555.49,238.6M548.56,227.71L555.49,234.55M548.56,223.66L555.49,230.5M548.56,219.61L555.49,226.45M548.56,215.56L555.49,222.4M548.56,211.51L555.49,218.35M548.56,207.46L555.49,214.3M548.56,203.41L555.49,210.25M548.56,199.36L555.49,206.2M548.56,195.31L555.49,202.15M548.56,191.26L555.49,198.1M548.56,187.21L555.49,194.05M548.56,183.16L555.49,190M548.56,179.11L555.49,185.95M548.56,175.06L555.49,181.9M548.56,171.01L555.49,177.85M548.56,166.96L555.49,173.8M548.96,163.3L555.49,169.75M553.06,163.3L555.49,165.7" stroke="#fff" stroke-width="0.72" fill="none"/><path d="M548.56,267.8V163.3H555.49V267.8" fill="none" stroke="#000" stroke-width="0.95"/>
<path d="M552.03,163.3V159.4M548.73,159.4H555.33" stroke="#000" stroke-width="0.8" fill="none"/>
<text x="551.53" y="158.5" font-size="14" text-anchor="middle">a</text>
<path d="M566.81,267.8L571.14,263.76M564.21,265.38L571.14,258.91M564.21,260.52L571.14,254.06M564.21,255.68L571.14,249.21M564.21,250.82L571.14,244.36M564.21,245.97L571.14,239.51M564.21,241.12L571.14,234.66M564.21,236.28L571.14,229.81M564.21,231.43L571.14,224.96M564.21,226.57L571.14,220.11M564.21,221.72L571.14,215.26M564.21,216.88L571.14,210.41M564.21,212.03L571.14,205.56M564.21,207.18L571.14,200.71M564.21,202.32L571.14,195.86M564.21,197.48L571.14,191.01M564.21,192.62L571.14,186.16M564.21,187.78L571.14,181.31M564.21,182.93L571.14,176.46M564.21,178.07L571.14,171.61M564.21,173.23L571.14,166.76M564.21,168.38L571.14,161.91M564.21,163.53L571.14,157.06M564.21,158.68L568.9,154.3" stroke="#000" stroke-width="1.2" fill="none"/><path d="M564.21,267.8V154.3H571.14V267.8" fill="none" stroke="#000" stroke-width="0.95"/>
<path d="M567.68,154.3V151.2M564.38,151.2H570.98" stroke="#000" stroke-width="0.8" fill="none"/>
<text x="567.68" y="148.7" font-size="14" text-anchor="middle">e</text>
<path d="M571.14,267.8L578.07,260.87M571.14,253.1L578.07,246.17M571.14,238.4L578.07,231.47M571.14,223.7L578.07,216.77M571.14,209L578.07,202.07M571.14,194.3L578.07,187.37M571.14,179.6L578.07,172.67M571.14,164.9L578.07,157.97" stroke="#000" stroke-width="1.05" fill="none"/><path d="M571.14,267.8V152.3H578.07V267.8" fill="none" stroke="#000" stroke-width="0.95"/>
<path d="M574.61,152.3V149.7M571.31,149.7H577.9" stroke="#000" stroke-width="0.8" fill="none"/>
<text x="574.61" y="147.2" font-size="14" text-anchor="middle">e</text>
<path d="M578.47,267.8L585,261.33M578.07,257.9L585,251.03M578.07,247.6L585,240.73M578.07,237.3L585,230.43M578.07,227L585,220.13M578.07,216.7L585,209.83M578.07,206.4L585,199.53M578.07,196.1L585,189.23M578.07,185.8L585,178.93M578.07,175.5L585,168.63M578.07,165.2L585,158.33M578.07,154.9L585,148.03M578.07,144.6L579.68,143M578.07,267.4L578.47,267.8M578.07,257.1L585,263.97M578.07,246.8L585,253.67M578.07,236.5L585,243.37M578.07,226.2L585,233.07M578.07,215.9L585,222.77M578.07,205.6L585,212.47M578.07,195.3L585,202.17M578.07,185L585,191.87M578.07,174.7L585,181.57M578.07,164.4L585,171.27M578.07,154.1L585,160.97M578.07,143.8L585,150.67" stroke="#000" stroke-width="1.05" fill="none"/><path d="M578.07,267.8V143H585V267.8" fill="none" stroke="#000" stroke-width="0.95"/>
<path d="M581.54,143V140.4M578.24,140.4H584.84" stroke="#000" stroke-width="0.8" fill="none"/>
<text x="581.54" y="137.5" font-size="14" text-anchor="middle">d</text>
<path d="M584.95,265.95h1.1v1.1h-1.1zM584.95,261.95h1.1v1.1h-1.1zM584.95,257.95h1.1v1.1h-1.1zM584.95,253.95h1.1v1.1h-1.1zM584.95,249.95h1.1v1.1h-1.1zM584.95,244.95h1.1v1.1h-1.1zM584.95,240.95h1.1v1.1h-1.1zM584.95,236.95h1.1v1.1h-1.1zM584.95,232.95h1.1v1.1h-1.1zM584.95,228.95h1.1v1.1h-1.1zM584.95,224.95h1.1v1.1h-1.1zM584.95,220.95h1.1v1.1h-1.1zM584.95,216.95h1.1v1.1h-1.1zM584.95,212.95h1.1v1.1h-1.1zM584.95,208.95h1.1v1.1h-1.1zM584.95,204.95h1.1v1.1h-1.1zM584.95,200.95h1.1v1.1h-1.1zM584.95,196.95h1.1v1.1h-1.1zM584.95,192.95h1.1v1.1h-1.1zM584.95,188.95h1.1v1.1h-1.1zM584.95,184.95h1.1v1.1h-1.1zM584.95,180.95h1.1v1.1h-1.1zM584.95,176.95h1.1v1.1h-1.1zM584.95,172.95h1.1v1.1h-1.1zM584.95,168.95h1.1v1.1h-1.1zM584.95,163.95h1.1v1.1h-1.1zM584.95,159.95h1.1v1.1h-1.1zM584.95,155.95h1.1v1.1h-1.1zM584.95,151.95h1.1v1.1h-1.1zM584.95,147.95h1.1v1.1h-1.1zM584.95,143.95h1.1v1.1h-1.1zM584.95,139.95h1.1v1.1h-1.1zM584.95,135.95h1.1v1.1h-1.1zM584.95,131.95h1.1v1.1h-1.1zM588.95,263.95h1.1v1.1h-1.1zM588.95,259.95h1.1v1.1h-1.1zM588.95,255.95h1.1v1.1h-1.1zM588.95,251.95h1.1v1.1h-1.1zM588.95,246.95h1.1v1.1h-1.1zM588.95,242.95h1.1v1.1h-1.1zM588.95,238.95h1.1v1.1h-1.1zM588.95,234.95h1.1v1.1h-1.1zM588.95,230.95h1.1v1.1h-1.1zM588.95,226.95h1.1v1.1h-1.1zM588.95,222.95h1.1v1.1h-1.1zM588.95,218.95h1.1v1.1h-1.1zM588.95,214.95h1.1v1.1h-1.1zM588.95,210.95h1.1v1.1h-1.1zM588.95,206.95h1.1v1.1h-1.1zM588.95,202.95h1.1v1.1h-1.1zM588.95,198.95h1.1v1.1h-1.1zM588.95,194.95h1.1v1.1h-1.1zM588.95,190.95h1.1v1.1h-1.1zM588.95,186.95h1.1v1.1h-1.1zM588.95,182.95h1.1v1.1h-1.1zM588.95,178.95h1.1v1.1h-1.1zM588.95,174.95h1.1v1.1h-1.1zM588.95,170.95h1.1v1.1h-1.1zM588.95,165.95h1.1v1.1h-1.1zM588.95,161.95h1.1v1.1h-1.1zM588.95,157.95h1.1v1.1h-1.1zM588.95,153.95h1.1v1.1h-1.1zM588.95,149.95h1.1v1.1h-1.1zM588.95,145.95h1.1v1.1h-1.1zM588.95,141.95h1.1v1.1h-1.1zM588.95,137.95h1.1v1.1h-1.1zM588.95,133.95h1.1v1.1h-1.1zM588.95,129.95h1.1v1.1h-1.1z" fill="#333"/><path d="M585,267.8V128.7H591.93V267.8" fill="none" stroke="#000" stroke-width="0.95"/>
<path d="M588.47,128.7V125.6M585.17,125.6H591.76" stroke="#000" stroke-width="0.8" fill="none"/>
<text x="587.97" y="123.7" font-size="14" text-anchor="middle">c</text>
<path d="M591.93,267.5H598.86M591.93,262.5H598.86M591.93,258.5H598.86M591.93,254.5H598.86M591.93,250.5H598.86M591.93,246.5H598.86M591.93,242.5H598.86M591.93,238.5H598.86M591.93,234.5H598.86M591.93,230.5H598.86M591.93,226.5H598.86M591.93,222.5H598.86M591.93,218.5H598.86M591.93,214.5H598.86M591.93,210.5H598.86M591.93,206.5H598.86M591.93,202.5H598.86M591.93,198.5H598.86M591.93,194.5H598.86M591.93,190.5H598.86M591.93,186.5H598.86M591.93,181.5H598.86M591.93,177.5H598.86M591.93,173.5H598.86M591.93,169.5H598.86M591.93,165.5H598.86M591.93,161.5H598.86M591.93,157.5H598.86M591.93,153.5H598.86M591.93,149.5H598.86M591.93,145.5H598.86M591.93,141.5H598.86M591.93,137.5H598.86M591.93,133.5H598.86M591.93,129.5H598.86M591.93,125.5H598.86M591.93,121.5H598.86M595.5,267.5V262.5M595.5,258.5V254.5M595.5,250.5V246.5M595.5,242.5V238.5M595.5,234.5V230.5M595.5,226.5V222.5M595.5,218.5V214.5M595.5,210.5V206.5M595.5,202.5V198.5M595.5,194.5V190.5M595.5,186.5V181.5M595.5,177.5V173.5M595.5,169.5V165.5M595.5,161.5V157.5M595.5,153.5V149.5M595.5,145.5V141.5M595.5,137.5V133.5M595.5,129.5V125.5M595.5,121.5V120" stroke="#000" stroke-width="1.0" fill="none"/><path d="M591.93,267.8V120H598.86V267.8" fill="none" stroke="#000" stroke-width="0.95"/>
<path d="M595.4,120V115.4M592.1,115.4H598.7" stroke="#000" stroke-width="0.8" fill="none"/>
<text x="593.8" y="114" font-size="14" text-anchor="middle">b</text>
<rect x="598.86" y="108.8" width="6.93" height="159" fill="#000"/><path d="M604.67,267.8L605.79,266.7M600.57,267.8L605.79,262.65M598.86,265.44L605.79,258.6M598.86,261.39L605.79,254.55M598.86,257.34L605.79,250.5M598.86,253.29L605.79,246.45M598.86,249.24L605.79,242.4M598.86,245.19L605.79,238.35M598.86,241.14L605.79,234.3M598.86,237.09L605.79,230.25M598.86,233.04L605.79,226.2M598.86,228.99L605.79,222.15M598.86,224.94L605.79,218.1M598.86,220.89L605.79,214.05M598.86,216.84L605.79,210M598.86,212.79L605.79,205.95M598.86,208.74L605.79,201.9M598.86,204.69L605.79,197.85M598.86,200.64L605.79,193.8M598.86,196.59L605.79,189.75M598.86,192.54L605.79,185.7M598.86,188.49L605.79,181.65M598.86,184.44L605.79,177.6M598.86,180.39L605.79,173.55M598.86,176.34L605.79,169.5M598.86,172.29L605.79,165.45M598.86,168.24L605.79,161.4M598.86,164.19L605.79,157.35M598.86,160.14L605.79,153.3M598.86,156.09L605.79,149.25M598.86,152.04L605.79,145.2M598.86,147.99L605.79,141.15M598.86,143.94L605.79,137.1M598.86,139.89L605.79,133.05M598.86,135.84L605.79,129M598.86,131.79L605.79,124.95M598.86,127.74L605.79,120.9M598.86,123.69L605.79,116.85M598.86,119.64L605.79,112.8M598.86,115.59L605.74,108.8M598.86,111.54L601.64,108.8M598.86,264.16L602.55,267.8M598.86,260.11L605.79,266.95M598.86,256.06L605.79,262.9M598.86,252.01L605.79,258.85M598.86,247.96L605.79,254.8M598.86,243.91L605.79,250.75M598.86,239.86L605.79,246.7M598.86,235.81L605.79,242.65M598.86,231.76L605.79,238.6M598.86,227.71L605.79,234.55M598.86,223.66L605.79,230.5M598.86,219.61L605.79,226.45M598.86,215.56L605.79,222.4M598.86,211.51L605.79,218.35M598.86,207.46L605.79,214.3M598.86,203.41L605.79,210.25M598.86,199.36L605.79,206.2M598.86,195.31L605.79,202.15M598.86,191.26L605.79,198.1M598.86,187.21L605.79,194.05M598.86,183.16L605.79,190M598.86,179.11L605.79,185.95M598.86,175.06L605.79,181.9M598.86,171.01L605.79,177.85M598.86,166.96L605.79,173.8M598.86,162.91L605.79,169.75M598.86,158.86L605.79,165.7M598.86,154.81L605.79,161.65M598.86,150.76L605.79,157.6M598.86,146.71L605.79,153.55M598.86,142.66L605.79,149.5M598.86,138.61L605.79,145.45M598.86,134.56L605.79,141.4M598.86,130.51L605.79,137.35M598.86,126.46L605.79,133.3M598.86,122.41L605.79,129.25M598.86,118.36L605.79,125.2M598.86,114.31L605.79,121.15M598.86,110.26L605.79,117.1M601.48,108.8L605.79,113.05M605.58,108.8L605.79,109" stroke="#fff" stroke-width="0.72" fill="none"/><path d="M598.86,267.8V108.8H605.79V267.8" fill="none" stroke="#000" stroke-width="0.95"/>
<path d="M602.33,108.8V104.4M599.03,104.4H605.62" stroke="#000" stroke-width="0.8" fill="none"/>
<text x="602.33" y="102.8" font-size="14" text-anchor="middle">a</text>
<path d="M617.41,267.8L621.74,263.76M614.81,265.38L621.74,258.91M614.81,260.52L621.74,254.06M614.81,255.68L621.74,249.21M614.81,250.82L621.74,244.36M614.81,245.97L621.74,239.51M614.81,241.12L621.74,234.66M614.81,236.28L621.74,229.81M614.81,231.43L621.74,224.96M614.81,226.57L621.74,220.11M614.81,221.72L621.74,215.26M614.81,216.88L621.74,210.41M614.81,212.03L621.74,205.56M614.81,207.18L621.74,200.71M614.81,202.32L621.74,195.86M614.81,197.48L621.74,191.01M614.81,192.62L621.74,186.16M614.81,187.78L621.74,181.31M614.81,182.93L621.74,176.46M614.81,178.07L621.74,171.61M614.81,173.23L621.74,166.76M614.81,168.38L621.74,161.91M614.81,163.53L621.74,157.06M614.81,158.68L621.74,152.21M614.81,153.82L621.74,147.36M614.81,148.98L621.74,142.51M614.81,144.12L621.74,137.66M614.81,139.28L621.74,132.81M614.81,134.43L620.63,129M614.81,129.58L615.43,129" stroke="#000" stroke-width="1.2" fill="none"/><path d="M614.81,267.8V129H621.74V267.8" fill="none" stroke="#000" stroke-width="0.95"/>
<path d="M618.28,129V128M614.98,128H621.58" stroke="#000" stroke-width="0.8" fill="none"/>
<text x="618.68" y="127.6" font-size="14" text-anchor="middle">e</text>
<path d="M621.74,267.8L628.67,260.87M621.74,253.1L628.67,246.17M621.74,238.4L628.67,231.47M621.74,223.7L628.67,216.77M621.74,209L628.67,202.07M621.74,194.3L628.67,187.37M621.74,179.6L628.67,172.67M621.74,164.9L628.67,157.97M621.74,150.2L628.67,143.27M621.74,135.5L628.67,128.57" stroke="#000" stroke-width="1.05" fill="none"/><path d="M621.74,267.8V126.5H628.67V267.8" fill="none" stroke="#000" stroke-width="0.95"/>
<path d="M625.21,126.5V125.5M621.91,125.5H628.5" stroke="#000" stroke-width="0.8" fill="none"/>
<text x="625.41" y="121.2" font-size="14" text-anchor="middle">e</text>
<path d="M629.07,267.8L635.6,261.33M628.67,257.9L635.6,251.03M628.67,247.6L635.6,240.73M628.67,237.3L635.6,230.43M628.67,227L635.6,220.13M628.67,216.7L635.6,209.83M628.67,206.4L635.6,199.53M628.67,196.1L635.6,189.23M628.67,185.8L635.6,178.93M628.67,175.5L635.6,168.63M628.67,165.2L635.6,158.33M628.67,154.9L635.6,148.03M628.67,144.6L635.6,137.73M628.67,134.3L635.6,127.43M628.67,124L635.6,117.13M628.67,113.7L631.29,111.1M628.67,267.4L629.07,267.8M628.67,257.1L635.6,263.97M628.67,246.8L635.6,253.67M628.67,236.5L635.6,243.37M628.67,226.2L635.6,233.07M628.67,215.9L635.6,222.77M628.67,205.6L635.6,212.47M628.67,195.3L635.6,202.17M628.67,185L635.6,191.87M628.67,174.7L635.6,181.57M628.67,164.4L635.6,171.27M628.67,154.1L635.6,160.97M628.67,143.8L635.6,150.67M628.67,133.5L635.6,140.37M628.67,123.2L635.6,130.07M628.67,112.9L635.6,119.77" stroke="#000" stroke-width="1.05" fill="none"/><path d="M628.67,267.8V111.1H635.6V267.8" fill="none" stroke="#000" stroke-width="0.95"/>
<path d="M632.14,111.1V109.6M628.84,109.6H635.44" stroke="#000" stroke-width="0.8" fill="none"/>
<text x="630.64" y="109" font-size="14" text-anchor="middle">d</text>
<path d="M635.95,265.95h1.1v1.1h-1.1zM635.95,261.95h1.1v1.1h-1.1zM635.95,257.95h1.1v1.1h-1.1zM635.95,253.95h1.1v1.1h-1.1zM635.95,249.95h1.1v1.1h-1.1zM635.95,244.95h1.1v1.1h-1.1zM635.95,240.95h1.1v1.1h-1.1zM635.95,236.95h1.1v1.1h-1.1zM635.95,232.95h1.1v1.1h-1.1zM635.95,228.95h1.1v1.1h-1.1zM635.95,224.95h1.1v1.1h-1.1zM635.95,220.95h1.1v1.1h-1.1zM635.95,216.95h1.1v1.1h-1.1zM635.95,212.95h1.1v1.1h-1.1zM635.95,208.95h1.1v1.1h-1.1zM635.95,204.95h1.1v1.1h-1.1zM635.95,200.95h1.1v1.1h-1.1zM635.95,196.95h1.1v1.1h-1.1zM635.95,192.95h1.1v1.1h-1.1zM635.95,188.95h1.1v1.1h-1.1zM635.95,184.95h1.1v1.1h-1.1zM635.95,180.95h1.1v1.1h-1.1zM635.95,176.95h1.1v1.1h-1.1zM635.95,172.95h1.1v1.1h-1.1zM635.95,168.95h1.1v1.1h-1.1zM635.95,163.95h1.1v1.1h-1.1zM635.95,159.95h1.1v1.1h-1.1zM635.95,155.95h1.1v1.1h-1.1zM635.95,151.95h1.1v1.1h-1.1zM635.95,147.95h1.1v1.1h-1.1zM635.95,143.95h1.1v1.1h-1.1zM635.95,139.95h1.1v1.1h-1.1zM635.95,135.95h1.1v1.1h-1.1zM635.95,131.95h1.1v1.1h-1.1zM635.95,127.95h1.1v1.1h-1.1zM635.95,123.95h1.1v1.1h-1.1zM635.95,119.95h1.1v1.1h-1.1zM635.95,115.95h1.1v1.1h-1.1zM635.95,111.95h1.1v1.1h-1.1zM635.95,107.95h1.1v1.1h-1.1zM639.95,263.95h1.1v1.1h-1.1zM639.95,259.95h1.1v1.1h-1.1zM639.95,255.95h1.1v1.1h-1.1zM639.95,251.95h1.1v1.1h-1.1zM639.95,246.95h1.1v1.1h-1.1zM639.95,242.95h1.1v1.1h-1.1zM639.95,238.95h1.1v1.1h-1.1zM639.95,234.95h1.1v1.1h-1.1zM639.95,230.95h1.1v1.1h-1.1zM639.95,226.95h1.1v1.1h-1.1zM639.95,222.95h1.1v1.1h-1.1zM639.95,218.95h1.1v1.1h-1.1zM639.95,214.95h1.1v1.1h-1.1zM639.95,210.95h1.1v1.1h-1.1zM639.95,206.95h1.1v1.1h-1.1zM639.95,202.95h1.1v1.1h-1.1zM639.95,198.95h1.1v1.1h-1.1zM639.95,194.95h1.1v1.1h-1.1zM639.95,190.95h1.1v1.1h-1.1zM639.95,186.95h1.1v1.1h-1.1zM639.95,182.95h1.1v1.1h-1.1zM639.95,178.95h1.1v1.1h-1.1zM639.95,174.95h1.1v1.1h-1.1zM639.95,170.95h1.1v1.1h-1.1zM639.95,165.95h1.1v1.1h-1.1zM639.95,161.95h1.1v1.1h-1.1zM639.95,157.95h1.1v1.1h-1.1zM639.95,153.95h1.1v1.1h-1.1zM639.95,149.95h1.1v1.1h-1.1zM639.95,145.95h1.1v1.1h-1.1zM639.95,141.95h1.1v1.1h-1.1zM639.95,137.95h1.1v1.1h-1.1zM639.95,133.95h1.1v1.1h-1.1zM639.95,129.95h1.1v1.1h-1.1zM639.95,125.95h1.1v1.1h-1.1zM639.95,121.95h1.1v1.1h-1.1zM639.95,117.95h1.1v1.1h-1.1zM639.95,113.95h1.1v1.1h-1.1zM639.95,109.95h1.1v1.1h-1.1zM639.95,105.95h1.1v1.1h-1.1z" fill="#333"/><path d="M635.6,267.8V103.8H642.53V267.8" fill="none" stroke="#000" stroke-width="0.95"/>
<path d="M639.07,103.8V102.3M635.77,102.3H642.37" stroke="#000" stroke-width="0.8" fill="none"/>
<text x="637.97" y="102.3" font-size="14" text-anchor="middle">c</text>
<path d="M642.53,267.5H649.46M642.53,262.5H649.46M642.53,258.5H649.46M642.53,254.5H649.46M642.53,250.5H649.46M642.53,246.5H649.46M642.53,242.5H649.46M642.53,238.5H649.46M642.53,234.5H649.46M642.53,230.5H649.46M642.53,226.5H649.46M642.53,222.5H649.46M642.53,218.5H649.46M642.53,214.5H649.46M642.53,210.5H649.46M642.53,206.5H649.46M642.53,202.5H649.46M642.53,198.5H649.46M642.53,194.5H649.46M642.53,190.5H649.46M642.53,186.5H649.46M642.53,181.5H649.46M642.53,177.5H649.46M642.53,173.5H649.46M642.53,169.5H649.46M642.53,165.5H649.46M642.53,161.5H649.46M642.53,157.5H649.46M642.53,153.5H649.46M642.53,149.5H649.46M642.53,145.5H649.46M642.53,141.5H649.46M642.53,137.5H649.46M642.53,133.5H649.46M642.53,129.5H649.46M642.53,125.5H649.46M642.53,121.5H649.46M642.53,117.5H649.46M642.53,113.5H649.46M642.53,109.5H649.46M642.53,105.5H649.46M642.53,100.5H649.46M642.53,96.5H649.46M645.5,267.5V262.5M645.5,258.5V254.5M645.5,250.5V246.5M645.5,242.5V238.5M645.5,234.5V230.5M645.5,226.5V222.5M645.5,218.5V214.5M645.5,210.5V206.5M645.5,202.5V198.5M645.5,194.5V190.5M645.5,186.5V181.5M645.5,177.5V173.5M645.5,169.5V165.5M645.5,161.5V157.5M645.5,153.5V149.5M645.5,145.5V141.5M645.5,137.5V133.5M645.5,129.5V125.5M645.5,121.5V117.5M645.5,113.5V109.5M645.5,105.5V100.5M645.5,96.5V93.8" stroke="#000" stroke-width="1.0" fill="none"/><path d="M642.53,267.8V93.8H649.46V267.8" fill="none" stroke="#000" stroke-width="0.95"/>
<path d="M646,93.8V92.3M642.7,92.3H649.3" stroke="#000" stroke-width="0.8" fill="none"/>
<text x="645" y="91.5" font-size="14" text-anchor="middle">b</text>
<rect x="649.46" y="88" width="6.93" height="179.8" fill="#000"/><path d="M655.27,267.8L656.39,266.7M651.17,267.8L656.39,262.65M649.46,265.44L656.39,258.6M649.46,261.39L656.39,254.55M649.46,257.34L656.39,250.5M649.46,253.29L656.39,246.45M649.46,249.24L656.39,242.4M649.46,245.19L656.39,238.35M649.46,241.14L656.39,234.3M649.46,237.09L656.39,230.25M649.46,233.04L656.39,226.2M649.46,228.99L656.39,222.15M649.46,224.94L656.39,218.1M649.46,220.89L656.39,214.05M649.46,216.84L656.39,210M649.46,212.79L656.39,205.95M649.46,208.74L656.39,201.9M649.46,204.69L656.39,197.85M649.46,200.64L656.39,193.8M649.46,196.59L656.39,189.75M649.46,192.54L656.39,185.7M649.46,188.49L656.39,181.65M649.46,184.44L656.39,177.6M649.46,180.39L656.39,173.55M649.46,176.34L656.39,169.5M649.46,172.29L656.39,165.45M649.46,168.24L656.39,161.4M649.46,164.19L656.39,157.35M649.46,160.14L656.39,153.3M649.46,156.09L656.39,149.25M649.46,152.04L656.39,145.2M649.46,147.99L656.39,141.15M649.46,143.94L656.39,137.1M649.46,139.89L656.39,133.05M649.46,135.84L656.39,129M649.46,131.79L656.39,124.95M649.46,127.74L656.39,120.9M649.46,123.69L656.39,116.85M649.46,119.64L656.39,112.8M649.46,115.59L656.39,108.75M649.46,111.54L656.39,104.7M649.46,107.49L656.39,100.65M649.46,103.44L656.39,96.6M649.46,99.39L656.39,92.55M649.46,95.34L656.39,88.5M649.46,91.29L652.79,88M649.46,264.16L653.15,267.8M649.46,260.11L656.39,266.95M649.46,256.06L656.39,262.9M649.46,252.01L656.39,258.85M649.46,247.96L656.39,254.8M649.46,243.91L656.39,250.75M649.46,239.86L656.39,246.7M649.46,235.81L656.39,242.65M649.46,231.76L656.39,238.6M649.46,227.71L656.39,234.55M649.46,223.66L656.39,230.5M649.46,219.61L656.39,226.45M649.46,215.56L656.39,222.4M649.46,211.51L656.39,218.35M649.46,207.46L656.39,214.3M649.46,203.41L656.39,210.25M649.46,199.36L656.39,206.2M649.46,195.31L656.39,202.15M649.46,191.26L656.39,198.1M649.46,187.21L656.39,194.05M649.46,183.16L656.39,190M649.46,179.11L656.39,185.95M649.46,175.06L656.39,181.9M649.46,171.01L656.39,177.85M649.46,166.96L656.39,173.8M649.46,162.91L656.39,169.75M649.46,158.86L656.39,165.7M649.46,154.81L656.39,161.65M649.46,150.76L656.39,157.6M649.46,146.71L656.39,153.55M649.46,142.66L656.39,149.5M649.46,138.61L656.39,145.45M649.46,134.56L656.39,141.4M649.46,130.51L656.39,137.35M649.46,126.46L656.39,133.3M649.46,122.41L656.39,129.25M649.46,118.36L656.39,125.2M649.46,114.31L656.39,121.15M649.46,110.26L656.39,117.1M649.46,106.21L656.39,113.05M649.46,102.16L656.39,109M649.46,98.11L656.39,104.95M649.46,94.06L656.39,100.9M649.46,90.01L656.39,96.85M651.53,88L656.39,92.8M655.63,88L656.39,88.75" stroke="#fff" stroke-width="0.72" fill="none"/><path d="M649.46,267.8V88H656.39V267.8" fill="none" stroke="#000" stroke-width="0.95"/>
<path d="M652.93,88V87.2M649.63,87.2H656.23" stroke="#000" stroke-width="0.8" fill="none"/>
<text x="652.33" y="85.8" font-size="14" text-anchor="middle">a</text>
<g font-size="13.9">
<text x="72.7" y="272.55" text-anchor="end">0</text>
<text x="72.7" y="238.33" text-anchor="end">20</text>
<text x="72.7" y="204.11" text-anchor="end">40</text>
<text x="72.7" y="169.89" text-anchor="end">60</text>
<text x="72.7" y="135.67" text-anchor="end">80</text>
<text x="72.7" y="101.45" text-anchor="end">100</text>
<text x="72.7" y="67.23" text-anchor="end">120</text>
<text x="72.7" y="33.01" text-anchor="end">140</text>
<text x="131.30" y="291.0" text-anchor="middle">50</text>
<text x="181.80" y="291.0" text-anchor="middle">70</text>
<text x="232.30" y="291.0" text-anchor="middle">90</text>
<text x="283.70" y="291.0" text-anchor="middle">110</text>
<text x="334.30" y="291.0" text-anchor="middle">130</text>
<text x="433.20" y="291.0" text-anchor="middle">50</text>
<text x="483.80" y="291.0" text-anchor="middle">70</text>
<text x="534.30" y="291.0" text-anchor="middle">90</text>
<text x="585.80" y="291.0" text-anchor="middle">110</text>
<text x="636.30" y="291.0" text-anchor="middle">130</text>
</g>
<text x="104" y="56.2" font-size="14.0">2014</text>
<text x="406" y="56.2" font-size="14.0">2015</text>
<path d="M132.7,90.2L137.6,85.63M127.5,90.2L134.15,84M122.3,90.2L128.95,84M117.1,90.2L123.75,84M111.9,90.2L118.55,84M106.7,90.2L113.35,84M106.2,85.82L108.15,84" stroke="#000" stroke-width="1.2" fill="none"/><rect x="106.2" y="84" width="31.4" height="6.2" fill="none" stroke="#000" stroke-width="0.95"/>
<text x="145.5" y="92.00" font-size="14">0</text>
<path d="M135.4,107.75L137.6,105.55M120.7,107.75L126.9,101.55M106.2,107.55L112.2,101.55" stroke="#000" stroke-width="1.05" fill="none"/><rect x="106.2" y="101.55" width="31.4" height="6.2" fill="none" stroke="#000" stroke-width="0.95"/>
<text x="145.5" y="109.55" font-size="14">6</text>
<path d="M127.4,125.3L133.66,119.1M117,125.3L123.26,119.1M106.6,125.3L112.86,119.1M106.2,124.9L106.6,125.3M110.74,119.1L117,125.3M121.14,119.1L127.4,125.3M131.54,119.1L137.6,125.1" stroke="#000" stroke-width="1.05" fill="none"/><rect x="106.2" y="119.1" width="31.4" height="6.2" fill="none" stroke="#000" stroke-width="0.95"/>
<text x="145.5" y="127.10" font-size="14">12</text>
<path d="M105.95,140.95h1.1v1.1h-1.1zM105.95,136.95h1.1v1.1h-1.1zM121.95,140.95h1.1v1.1h-1.1zM121.95,136.95h1.1v1.1h-1.1zM109.95,138.95h1.1v1.1h-1.1zM125.95,138.95h1.1v1.1h-1.1zM113.95,140.95h1.1v1.1h-1.1zM113.95,136.95h1.1v1.1h-1.1zM129.95,140.95h1.1v1.1h-1.1zM129.95,136.95h1.1v1.1h-1.1zM117.95,138.95h1.1v1.1h-1.1zM133.95,138.95h1.1v1.1h-1.1z" fill="#333"/><rect x="106.2" y="136.65" width="31.4" height="6.2" fill="none" stroke="#000" stroke-width="0.95"/>
<text x="145.5" y="144.65" font-size="14">18</text>
<path d="M106.2,160.5H137.6M106.2,156.5H137.6M109.5,160.4V156.5M117.5,160.4V156.5M125.5,160.4V156.5M133.5,160.4V156.5M113.5,156.5V154.2M121.5,156.5V154.2M129.5,156.5V154.2" stroke="#000" stroke-width="1.0" fill="none"/><rect x="106.2" y="154.2" width="31.4" height="6.2" fill="none" stroke="#000" stroke-width="0.95"/>
<text x="145.5" y="162.20" font-size="14">24</text>
<rect x="106.2" y="171.75" width="31.4" height="6.2" fill="#000"/><path d="M135.26,177.95L137.6,175.64M131.16,177.95L137.44,171.75M127.06,177.95L133.34,171.75M122.96,177.95L129.24,171.75M118.86,177.95L125.14,171.75M114.76,177.95L121.04,171.75M110.66,177.95L116.94,171.75M106.56,177.95L112.84,171.75M106.2,174.26L108.74,171.75M106.2,175.84L108.34,177.95M106.2,171.79L112.44,177.95M110.26,171.75L116.54,177.95M114.36,171.75L120.64,177.95M118.46,171.75L124.74,177.95M122.56,171.75L128.84,177.95M126.66,171.75L132.94,177.95M130.76,171.75L137.04,177.95M134.86,171.75L137.6,174.46" stroke="#fff" stroke-width="0.72" fill="none"/><rect x="106.2" y="171.75" width="31.4" height="6.2" fill="none" stroke="#000" stroke-width="0.95"/>
<text x="145.5" y="179.75" font-size="14">30</text>
<text x="371.5" y="327.3" font-size="16.9" text-anchor="middle">Days after sowing (d)</text>
<text transform="translate(14.7,150.9) rotate(-90)" font-size="17" text-anchor="middle">Above-ground dry matter accumulation</text>
<text transform="translate(33.8,147.7) rotate(-90)" font-size="16.9" text-anchor="middle">(g/plant)</text>
</svg>
</body></html>
